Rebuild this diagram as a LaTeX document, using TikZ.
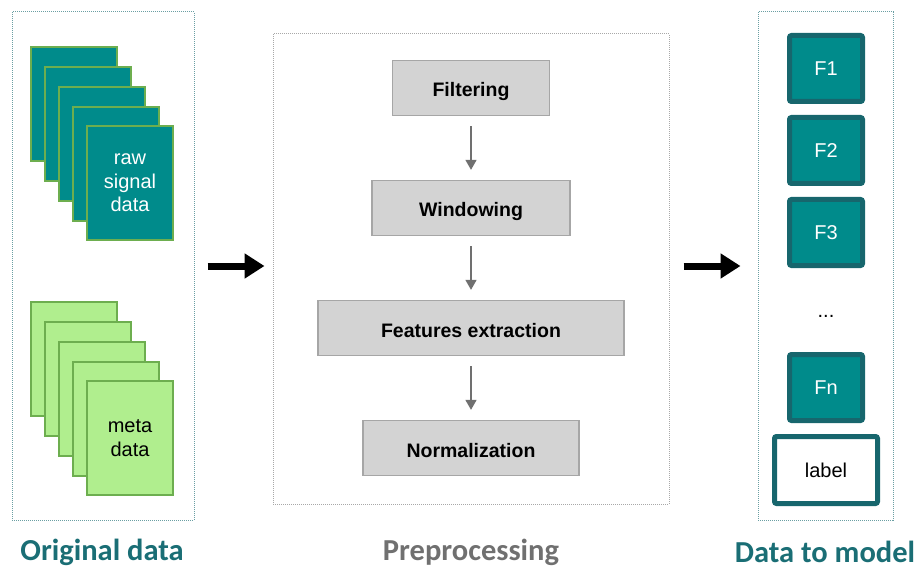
\documentclass[tikz,border=0pt]{standalone}
\usepackage{fontspec}
\setmainfont{Liberation Sans}
\newfontfamily\capfont{Carlito}
\usepackage{tikz}
\usetikzlibrary{positioning,arrows.meta}

\definecolor{tealfill}{HTML}{008B8B}
\definecolor{tealdark}{HTML}{17666D}
\definecolor{pageedge}{HTML}{6DAE4F}
\definecolor{metafill}{HTML}{B0EE8E}
\definecolor{frameteal}{HTML}{6A9FA3}
\definecolor{framegray}{HTML}{A8A8A8}
\definecolor{boxgray}{HTML}{D3D3D3}
\definecolor{boxedge}{HTML}{A6A6A6}
\definecolor{captiongray}{HTML}{707070}
\definecolor{captionteal}{HTML}{1A6E75}

\begin{document}
\begin{tikzpicture}[x=1pt, y=-1pt,
    font=\fontsize{20}{23.5}\selectfont,
    frame/.style = {draw=frameteal, densely dotted, line width=1pt},
    rawpage/.style = {draw=pageedge, fill=tealfill, line width=1.3pt, minimum width=86pt, minimum height=114pt, text=white, align=center},
    metapage/.style = {draw=pageedge, fill=metafill, line width=1.3pt, minimum width=86pt, minimum height=114pt, align=center},
    stage/.style = {draw=boxedge, fill=boxgray, line width=1.3pt, minimum height=55pt, text height=18pt, text depth=0pt, font=\fontsize{19.5}{22}\selectfont\bfseries},
    feat/.style = {draw=tealdark, fill=tealfill, line width=5pt, rounded corners=2pt, minimum width=73pt, minimum height=66pt, text=white},
    caption/.style = {inner sep=0pt, font=\fontsize{30.5}{36}\selectfont\capfont\bfseries},
    bigarrow/.style = {line width=7pt, -{Triangle[length=20pt, width=24pt]}},
    step arrow/.style = {draw=captiongray, line width=1.5pt, -{Triangle[length=10pt, width=11pt]}, shorten <=10pt, shorten >=10pt}]
    \useasboundingbox (0,0) rectangle (920,569);

    % frames
    \node[frame, minimum width=182pt, minimum height=508pt] (orig) at (103,266) {};
    \node[frame, draw=framegray, minimum width=396pt, minimum height=470pt] (prep) at (471,269) {};
    \node[frame, minimum width=135pt, minimum height=508pt] (model) at (825.5,266) {};

    % original data
    \foreach \i in {0,...,3}
        \node[rawpage] (raw\i) at (74+14*\i, 104+20*\i) {};
    \node[rawpage] (raw4) at (130,183) {raw\\signal\\data};
    \foreach \i in {0,...,3}
        \node[metapage] (meta\i) at (74+14*\i, 359+20*\i) {};
    \node[metapage] (meta4) at (130,438) {meta\\data};

    % preprocessing
    \node[stage, minimum width=157pt] (filt) at (471,88) {Filtering};
    \node[stage, minimum width=198pt] (wind) [below of=filt, node distance=120pt] {Windowing};
    \node[stage, minimum width=306pt] (extr) [below of=wind, node distance=120pt] {Features extraction};
    \node[stage, minimum width=216pt] (norm) [below of=extr, node distance=120pt] {Normalization};
    \draw[step arrow] (filt) -- (wind);
    \draw[step arrow] (wind) -- (extr);
    \draw[step arrow] (extr) -- (norm);

    % data to model
    \node[feat] (f1) at (826,68.5) {F1};
    \node[feat] (f2) [below of=f1, node distance=82pt] {F2};
    \node[feat] (f3) [below of=f2, node distance=82pt] {F3};
    \node (dots) [below of=f3, node distance=84pt] {...};
    \node[feat] (fn) [below of=f3, node distance=155pt] {Fn};
    \node[feat, fill=white, text=black, minimum width=103pt, minimum height=67pt] (lab) [below of=fn, node distance=82.5pt] {label};

    % flow between frames
    \draw[bigarrow, shorten <=13pt, shorten >=8pt] (orig.east) -- (prep.west |- orig.east);
    \draw[bigarrow, shorten <=14pt, shorten >=17pt] (prep.east |- orig.east) -- (model.west |- orig.east);

    % captions
    \node[caption, text=captionteal] (origcap) at (102,552) {Original data};
    \node[caption, text=captiongray] (prepcap) at (471,552) {Preprocessing};
    \node[caption, text=captionteal] (modelcap) at (825,552) {Data to model};
\end{tikzpicture}
\end{document}
